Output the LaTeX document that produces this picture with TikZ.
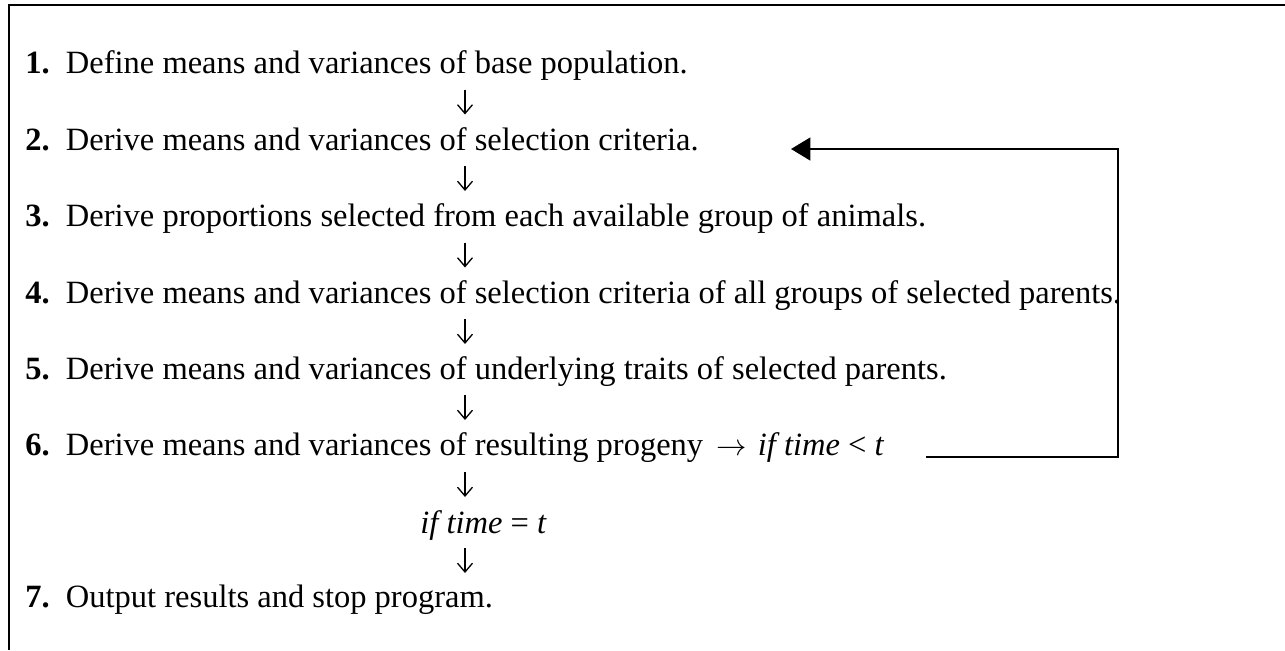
\documentclass[tikz,border=0pt]{standalone}
\usepackage{fontspec}
\setmainfont{Liberation Serif}
\usetikzlibrary{arrows.meta,calc}
\colorlet{figink}{black}
\newcommand{\stepno}[1]{\textbf{#1.}\hspace{0.5em}}

\begin{document}
\begin{tikzpicture}[
  x=0.02cm, y=-0.02cm,
  font=\fontsize{18.5}{22}\selectfont,
  every node/.append style={inner sep=0pt, text height=0.7em, text depth=0.25em, anchor=base west},
  down/.style={figink, line width=0.75pt, -{Straight Barb[length=5pt,width=8.5pt]}},
  back/.style={figink, line width=1.1pt, -{Triangle[length=11pt,width=13pt]}},
  frame/.style={figink, line width=1.1pt},
]
  \useasboundingbox (0,0) rectangle (1285,650);
  \draw[frame] (9,650) -- (9,5) -- (1285,5);

  \node (s1) at (25,73) {\stepno{1}Define means and variances of base population.};
  \node (s2) at (25,150) {\stepno{2}Derive means and variances of selection criteria.};
  \node (s3) at (25,226) {\stepno{3}Derive proportions selected from each available group of animals.};
  \node (s4) at (25,303) {\stepno{4}Derive means and variances of selection criteria of all groups of selected parents.};
  \node (s5) at (25,379) {\stepno{5}Derive means and variances of underlying traits of selected parents.};
  \node (s6) at (25,455) {\stepno{6}Derive means and variances of resulting progeny\hspace{0.4em}$\rightarrow$\hspace{0.35em}\textit{if time} < \textit{t}};
  \node (eq) at (420,533) {\textit{if time} = \textit{t}};
  \node (s7) at (25,607) {\stepno{7}Output results and stop program.};

  \coordinate (col) at (465,0);
  \foreach \a/\b in {s1/s2,s2/s3,s3/s4,s4/s5,s5/s6,s6/eq,eq/s7}
    \draw[down] ($(\a.base -| col)!0.5!(\b.base -| col)+(0,-22)$) -- ++(0,25);

  \coordinate (lp) at (926,457);
  \coordinate (rb) at (1118,457);
  \coordinate (rt) at (1118,149);
  \coordinate (tip) at (791,149);
  \draw[back] (lp) -- (rb) -- (rt) -- (tip);
\end{tikzpicture}
\end{document}
